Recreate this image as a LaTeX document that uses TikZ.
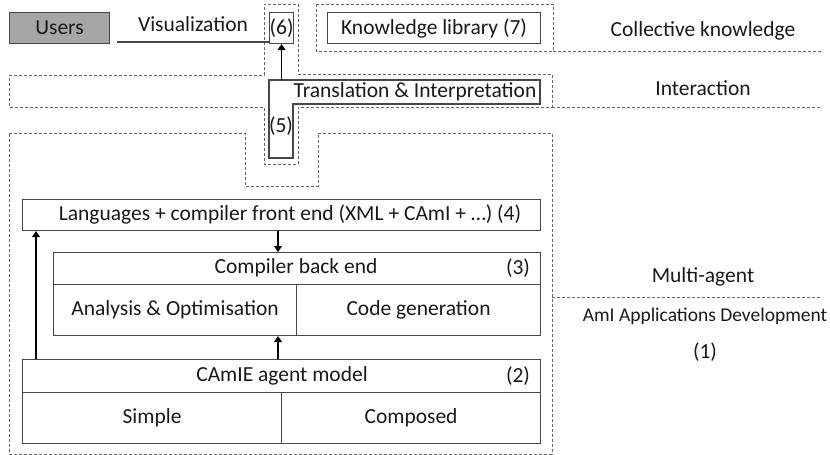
\documentclass[tikz,border=0pt]{standalone}
\usepackage{fontspec}
\setmainfont{Carlito}
\usetikzlibrary{arrows.meta}
\begin{document}
\begin{tikzpicture}[x=1pt,y=-1pt,
  every node/.style={font=\fontsize{21.5}{25}\selectfont, text=black!90, inner sep=0pt},
  box/.style={draw=black!72, line width=1.1pt, fill=white, anchor=north west},
  solidline/.style={draw=black!72, line width=1.1pt},
  dashline/.style={draw=black!60, line width=0.9pt, dash pattern=on 3pt off 2pt},
  arr/.style={draw=black, line width=1.1pt, -{Triangle[width=8pt,length=6pt]}}
]
\useasboundingbox (0,0) rectangle (830,455);

% dashed layers
\draw[dashline] (9,75) -- (264,75) -- (264,4) -- (298,4) -- (298,74) -- (552,74) -- (552,107) -- (298,107) -- (298,164) -- (264,164) -- (264,107) -- (9,107) -- cycle;
\draw[dashline] (552,107) -- (821,107);
\draw[dashline] (316,4) rectangle (553,51);
\draw[dashline] (553,51) -- (821,51);
\draw[dashline] (9,133) -- (245,133) -- (245,186) -- (318,186) -- (318,133) -- (552,133) -- (552,454) -- (9,454) -- cycle;
\draw[dashline] (552,297) -- (821,297);

% layer labels
\node (lck) at (703,31) {Collective knowledge};
\node (lint) at (703,88) {Interaction};
\node (lma) at (703,277) {Multi-agent};
\node[font=\fontsize{19.5}{23}\selectfont] (lami) at (705,316) {AmI Applications Development};
\node (lone) at (705,352) {(1)};

% top row
\node[box, fill=gray!70!white, minimum width=100, minimum height=31] (users) at (9,12) {Users};
\node (vis) at (193,24) {Visualization};
\node[box, minimum width=24, minimum height=31] (six) at (269,12) {(6)};
\node[box, minimum width=213, minimum height=31] (kl) at (327,12) {Knowledge library (7)};
\coordinate (vL) at (117,42);
\draw[solidline] (vL) -- (vL -| six.west);

% translation & interpretation
\coordinate (tA) at (269,80);
\draw[solidline, fill=white] (tA) -- (540,80) -- (540,104) -- (293,104) -- (293,158) -- (269,158) -- cycle;
\node (tr) at (415,92) {Translation \& Interpretation};
\node (five) at (281,126) {(5)};
\draw[arr] (tA -| six.south) -- (six.south);

% languages
\node[box, minimum width=518, minimum height=31] (lang) at (22,199) {};
\node (langt) at (290,214) {Languages + compiler front end (XML + CAmI + …) (4)};

% compiler back end
\node[box, minimum width=487, minimum height=32] (cbe) at (53,252) {};
\node (cbet) at (296,268) {Compiler back end};
\node (cben) at (518,268) {(3)};
\node[box, minimum width=243, minimum height=51] (ana) at (53,284) {Analysis \& Optimisation};
\node[box, minimum width=244, minimum height=51] (cg) at (296,284) {Code generation};

% CAmIE
\node[box, minimum width=518, minimum height=33] (cam) at (22,359) {};
\node (camt) at (282,376) {CAmIE agent model};
\node (camn) at (518,376) {(2)};
\node[box, minimum width=259, minimum height=51] (simple) at (22,392) {Simple};
\node[box, minimum width=259, minimum height=51] (comp) at (281,392) {Composed};

% arrows
\coordinate (ax) at (278,0);
\coordinate (lx) at (36,0);
\draw[arr] (lang.south -| ax) -- (cbe.north -| ax);
\draw[arr] (cam.north -| ax) -- (ana.south -| ax);
\draw[arr] (cam.north -| lx) -- (lang.south -| lx);
\end{tikzpicture}
\end{document}
